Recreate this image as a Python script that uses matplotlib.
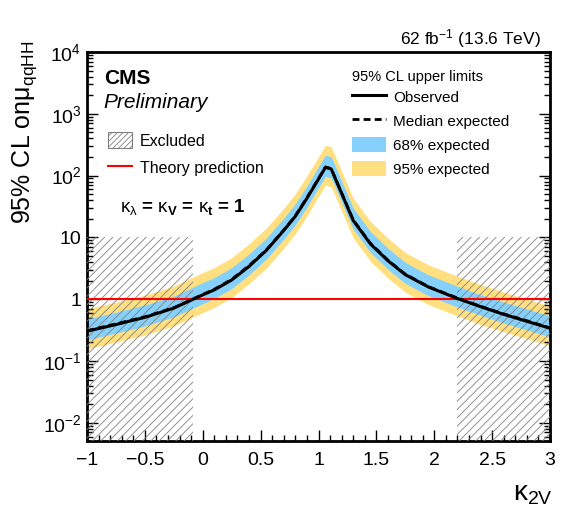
import numpy as np
import matplotlib
matplotlib.use("Agg")
import matplotlib.pyplot as plt
from matplotlib.lines import Line2D
from matplotlib.patches import Patch
from matplotlib.ticker import LogLocator, MultipleLocator, NullFormatter

# Fonts (Helvetica-like, ROOT style)
plt.rcParams['font.family'] = ['Liberation Sans', 'DejaVu Sans']
plt.rcParams['mathtext.fontset'] = 'custom'
plt.rcParams['mathtext.rm'] = 'Liberation Sans'
plt.rcParams['mathtext.it'] = 'Liberation Sans:italic'
plt.rcParams['mathtext.bf'] = 'Liberation Sans:bold'
plt.rcParams['hatch.linewidth'] = 0.6

##########################################
## Data          ##
##########################################
k2v = [-1.0, -0.75, -0.5, -0.25, 0.0, 0.1, 0.25, 0.4, 0.55, 0.7, 0.8, 0.9, 1.0,
       1.06, 1.11, 1.19, 1.3, 1.45, 1.6, 1.75, 1.95, 2.2, 2.4, 2.6, 2.8, 3.0]
observed = [0.305, 0.39, 0.51, 0.72, 1.18, 1.42, 2.05, 3.4, 6.2, 13, 22, 43, 88,
            136, 128, 57, 18.8, 7.8, 4.2, 2.5, 1.58, 1.03, 0.76, 0.57, 0.44, 0.34]
expected = [0.31, 0.40, 0.52, 0.73, 1.2, 1.45, 2.1, 3.5, 6.3, 13.2, 22.5, 44, 90,
            138, 130, 58, 19.2, 8.0, 4.3, 2.55, 1.6, 1.05, 0.77, 0.58, 0.45, 0.345]
exp_m2 = [0.158, 0.204, 0.265, 0.372, 0.61, 0.74, 1.07, 1.79, 3.2, 6.7, 11.5, 22.4, 46,
          70, 66, 29.6, 9.8, 4.1, 2.2, 1.3, 0.82, 0.54, 0.39, 0.30, 0.23, 0.176]
exp_m1 = [0.22, 0.284, 0.37, 0.52, 0.85, 1.03, 1.49, 2.49, 4.5, 9.4, 16, 31, 64,
          98, 92, 41, 13.6, 5.7, 3.05, 1.81, 1.14, 0.75, 0.55, 0.41, 0.32, 0.245]
exp_p1 = [0.48, 0.62, 0.81, 1.13, 1.86, 2.25, 3.26, 5.4, 9.8, 20.5, 35, 68, 140,
          214, 202, 90, 29.8, 12.4, 6.7, 3.95, 2.48, 1.63, 1.19, 0.90, 0.70, 0.535]
exp_p2 = [0.70, 0.90, 1.17, 1.64, 2.7, 3.26, 4.7, 7.9, 14.2, 29.7, 51, 99, 203,
          310, 293, 131, 43, 18, 9.7, 5.7, 3.6, 2.36, 1.73, 1.31, 1.01, 0.78]

theory = 1.0
excluded_left = [-1.0, -0.08]
excluded_right = [2.2, 3.0]
excluded_top = 10.0

xtick_vals = [-1, -0.5, 0, 0.5, 1, 1.5, 2, 2.5, 3]
xtick_labels = ['\u22121', '\u22120.5', '0', '0.5', '1', '1.5', '2', '2.5', '3']
ytick_vals = [1e-2, 1e-1, 1, 10, 1e2, 1e3, 1e4]
ytick_labels = [r'$10^{-2}$', r'$10^{-1}$', '1', '10', r'$10^{2}$', r'$10^{3}$', r'$10^{4}$']

# Style
c_68 = '#85D1FB'
c_95 = '#FFDF7F'
hatch_col = '#808080'
fontsize = 14

W, H = 580, 519
fig = plt.figure(figsize=(W / 100, H / 100), dpi=100)
fig.patch.set_facecolor('white')
ax = fig.add_axes([87 / W, 1 - 441 / H, (550 - 87) / W, (441 - 52) / H])

ax.fill_between(k2v, exp_m2, exp_p2, color=c_95, lw=0, zorder=1)
ax.fill_between(k2v, exp_m1, exp_p1, color=c_68, lw=0, zorder=2)
for rng in [excluded_left, excluded_right]:
    ax.fill_between(rng, [1e-5, 1e-5], [excluded_top, excluded_top], facecolor='none',
                    edgecolor=hatch_col, hatch='////', lw=0, zorder=3)
ax.axhline(theory, color='#FF0000', lw=1.5, zorder=4)
ax.plot(k2v, expected, color='black', lw=2, ls=(0, (2.5, 1.5)), zorder=5)
ax.plot(k2v, observed, color='black', lw=2.2, zorder=6)

ax.set_yscale('log')
ax.set_xlim(-1, 3)
ax.set_ylim(0.0051, 1e4)
ax.set_xticks(xtick_vals)
ax.set_xticklabels(xtick_labels)
ax.xaxis.set_minor_locator(MultipleLocator(0.1))
ax.set_yticks(ytick_vals)
ax.set_yticklabels(ytick_labels)
ax.yaxis.set_minor_locator(LogLocator(base=10, subs=np.arange(2, 10), numticks=20))
ax.yaxis.set_minor_formatter(NullFormatter())
ax.tick_params(axis='both', which='both', direction='in', right=True, top=False,
               labelsize=fontsize, width=1)
ax.tick_params(axis='both', which='major', length=8)
ax.tick_params(axis='both', which='minor', length=4)
ax.tick_params(axis='x', which='major', pad=8)
ax.tick_params(axis='y', which='major', pad=4)
for sp in ax.spines.values():
    sp.set_linewidth(2)

# Axis titles
fig.text(25 / W, 1 - 40 / H, r'95% CL on$\mathrm{\mu}_{\mathregular{qqHH}}$', rotation=90,
         ha='center', va='top', fontsize=18)
fig.text(553 / W, 1 - 507 / H, r'$\mathrm{\kappa}_{\mathregular{2V}}$', ha='right', va='bottom',
         fontsize=20)

# Labels
fig.text(104 / W, 1 - 84 / H, 'CMS', fontsize=15, fontweight='bold', ha='left', va='baseline')
fig.text(103 / W, 1 - 108 / H, 'Preliminary', fontsize=15, fontstyle='italic',
         ha='left', va='baseline')
fig.text(541 / W, 1 - 44 / H, r'62 fb$^{\mathregular{-1}}$ (13.6 TeV)', fontsize=12.5,
         ha='right', va='baseline')
fig.text(120 / W, 1 - 212 / H,
         r'$\mathrm{\kappa}_{\mathrm{\lambda}}$ = $\mathrm{\kappa}_{\mathregular{V}}$ = $\mathrm{\kappa}_{\mathregular{t}}$ = 1',
         fontsize=13.5, fontweight='bold', ha='left', va='baseline')

# Legends
handles_left = [Patch(facecolor='none', edgecolor=hatch_col, hatch='//////', lw=0.8),
                Line2D([], [], color='#FF0000', lw=1.5)]
leg1 = ax.legend(handles_left, ['Excluded', 'Theory prediction'], loc='upper left',
                 bbox_to_anchor=(108 / W, 1 - 132 / H), bbox_transform=fig.transFigure,
                 frameon=False, fontsize=11.5, handlelength=1.5, handleheight=1.2,
                 labelspacing=0.65, handletextpad=0.5, borderpad=0, borderaxespad=0)
ax.add_artist(leg1)

handles_right = [Line2D([], [], color='black', lw=2.2),
                 Line2D([], [], color='black', lw=2, ls=(0, (2.5, 1.5))),
                 Patch(facecolor=c_68, lw=0),
                 Patch(facecolor=c_95, lw=0)]
leg2 = ax.legend(handles_right, ['Observed', 'Median expected', '68% expected', '95% expected'],
                 title='95% CL upper limits', title_fontsize=10.5, alignment='left',
                 loc='upper left', bbox_to_anchor=(352 / W, 1 - 67 / H),
                 bbox_transform=fig.transFigure, frameon=False, fontsize=11,
                 handlelength=2.2, handleheight=1.2, labelspacing=0.52,
                 handletextpad=0.5, borderpad=0, borderaxespad=0)
leg2.get_title().set_position((0, -3))

plt.savefig('out.png', dpi=100)
